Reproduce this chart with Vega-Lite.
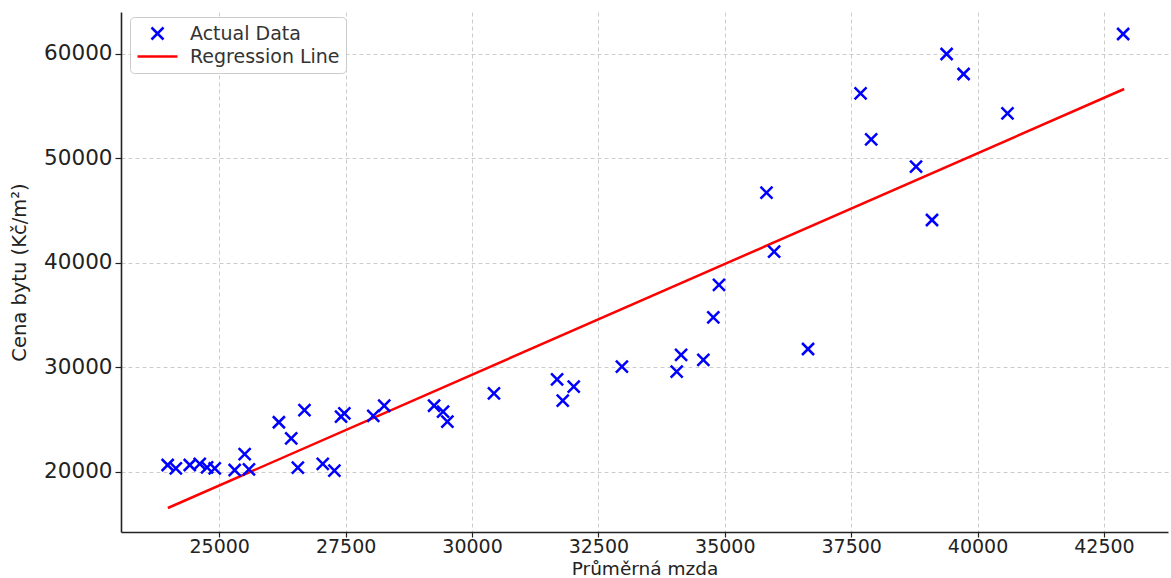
{
  "$schema": "https://vega.github.io/schema/vega-lite/v6.json",
  "autosize": {"type": "none"},
  "width": 1047,
  "height": 520,
  "padding": {"left": 121, "top": 12, "right": 3, "bottom": 46},
  "background": "white",
  "config": {
    "font": "DejaVu Sans",
    "view": {"stroke": null},
    "axis": {
      "labelFont": "DejaVu Sans",
      "titleFont": "DejaVu Sans",
      "labelFontSize": 21.5,
      "titleFontWeight": "normal",
      "labelColor": "#222",
      "titleColor": "#222",
      "domainColor": "#222",
      "domainWidth": 1.6,
      "tickColor": "#222",
      "tickSize": 6,
      "tickWidth": 1.2,
      "gridColor": "#cccccc",
      "gridDash": [4, 3],
      "gridWidth": 1
    }
  },
  "datasets": {
    "points": [
      {"mzda": 23980, "cena": 20670, "series": "Actual Data"},
      {"mzda": 24142, "cena": 20350, "series": "Actual Data"},
      {"mzda": 24418, "cena": 20670, "series": "Actual Data"},
      {"mzda": 24615, "cena": 20770, "series": "Actual Data"},
      {"mzda": 24760, "cena": 20450, "series": "Actual Data"},
      {"mzda": 24911, "cena": 20350, "series": "Actual Data"},
      {"mzda": 25306, "cena": 20190, "series": "Actual Data"},
      {"mzda": 25503, "cena": 21720, "series": "Actual Data"},
      {"mzda": 25588, "cena": 20260, "series": "Actual Data"},
      {"mzda": 26180, "cena": 24760, "series": "Actual Data"},
      {"mzda": 26424, "cena": 23220, "series": "Actual Data"},
      {"mzda": 26555, "cena": 20410, "series": "Actual Data"},
      {"mzda": 26686, "cena": 25930, "series": "Actual Data"},
      {"mzda": 27048, "cena": 20770, "series": "Actual Data"},
      {"mzda": 27278, "cena": 20130, "series": "Actual Data"},
      {"mzda": 27410, "cena": 25290, "series": "Actual Data"},
      {"mzda": 27475, "cena": 25620, "series": "Actual Data"},
      {"mzda": 28047, "cena": 25360, "series": "Actual Data"},
      {"mzda": 28264, "cena": 26340, "series": "Actual Data"},
      {"mzda": 29250, "cena": 26340, "series": "Actual Data"},
      {"mzda": 29428, "cena": 25770, "series": "Actual Data"},
      {"mzda": 29513, "cena": 24810, "series": "Actual Data"},
      {"mzda": 30434, "cena": 27530, "series": "Actual Data"},
      {"mzda": 31683, "cena": 28870, "series": "Actual Data"},
      {"mzda": 32012, "cena": 28160, "series": "Actual Data"},
      {"mzda": 31795, "cena": 26820, "series": "Actual Data"},
      {"mzda": 32965, "cena": 30080, "series": "Actual Data"},
      {"mzda": 34049, "cena": 29600, "series": "Actual Data"},
      {"mzda": 34136, "cena": 31200, "series": "Actual Data"},
      {"mzda": 34576, "cena": 30720, "series": "Actual Data"},
      {"mzda": 34773, "cena": 34800, "series": "Actual Data"},
      {"mzda": 34885, "cena": 37900, "series": "Actual Data"},
      {"mzda": 36647, "cena": 31770, "series": "Actual Data"},
      {"mzda": 35825, "cena": 46727, "series": "Actual Data"},
      {"mzda": 35976, "cena": 41081, "series": "Actual Data"},
      {"mzda": 37686, "cena": 56239, "series": "Actual Data"},
      {"mzda": 37896, "cena": 51837, "series": "Actual Data"},
      {"mzda": 38783, "cena": 49215, "series": "Actual Data"},
      {"mzda": 39099, "cena": 44115, "series": "Actual Data"},
      {"mzda": 39388, "cena": 60000, "series": "Actual Data"},
      {"mzda": 39724, "cena": 58086, "series": "Actual Data"},
      {"mzda": 40592, "cena": 54325, "series": "Actual Data"},
      {"mzda": 42880, "cena": 61914, "series": "Actual Data"}
    ],
    "line": [
      {"mzda": 23984, "cena": 16555, "series": "Regression Line"},
      {"mzda": 42900, "cena": 56651, "series": "Regression Line"}
    ]
  },
  "encoding": {
    "x": {
      "field": "mzda",
      "type": "quantitative",
      "title": "Průměrná mzda",
      "scale": {"domain": [23057, 43767], "nice": false, "zero": false},
      "axis": {"values": [25000, 27500, 30000, 32500, 35000, 37500, 40000, 42500], "format": "d", "tickSize": 5, "labelFontSize": 19, "labelPadding": 0, "titlePadding": 3, "titleFontSize": 18.5}
    },
    "y": {
      "field": "cena",
      "type": "quantitative",
      "title": "Cena bytu (Kč/m²)",
      "scale": {"domain": [14258, 64019], "nice": false, "zero": false},
      "axis": {"values": [20000, 30000, 40000, 50000, 60000], "format": "d", "labelPadding": 3, "titlePadding": 14, "titleFontSize": 19.5}
    },
    "color": {
      "field": "series",
      "type": "nominal",
      "scale": {"domain": ["Actual Data", "Regression Line"], "range": ["#0000ff", "#ff0000"]},
      "legend": {
        "title": null,
        "orient": "none",
        "legendX": 9,
        "legendY": 5,
        "padding": 6,
        "strokeColor": "#cccccc",
        "fillColor": "rgba(255,255,255,0.85)",
        "cornerRadius": 4,
        "labelFont": "DejaVu Sans",
        "labelFontSize": 19,
        "labelColor": "#333",
        "symbolSize": 324,
        "symbolStrokeWidth": 2.5,
        "symbolOffset": 11,
        "labelOffset": 22,
        "rowPadding": 1
      }
    },
    "shape": {
      "field": "series",
      "type": "nominal",
      "scale": {"domain": ["Actual Data", "Regression Line"], "range": ["M-0.667,-0.667L0.667,0.667M-0.667,0.667L0.667,-0.667", "M-2.22,0L2.22,0"]},
      "legend": {
        "title": null,
        "orient": "none",
        "legendX": 9,
        "legendY": 5,
        "padding": 6,
        "strokeColor": "#cccccc",
        "fillColor": "rgba(255,255,255,0.85)",
        "cornerRadius": 4,
        "labelFont": "DejaVu Sans",
        "labelFontSize": 19,
        "labelColor": "#333",
        "symbolSize": 324,
        "symbolStrokeWidth": 2.5,
        "symbolOffset": 11,
        "labelOffset": 22,
        "rowPadding": 1
      }
    }
  },
  "layer": [
    {
      "data": {"name": "line"},
      "mark": {"type": "line", "strokeWidth": 2.5},
      "encoding": {"shape": null}
    },
    {
      "data": {"name": "points"},
      "mark": {"type": "point", "filled": false, "size": 324, "strokeWidth": 2.5, "opacity": 1}
    }
  ]
}
